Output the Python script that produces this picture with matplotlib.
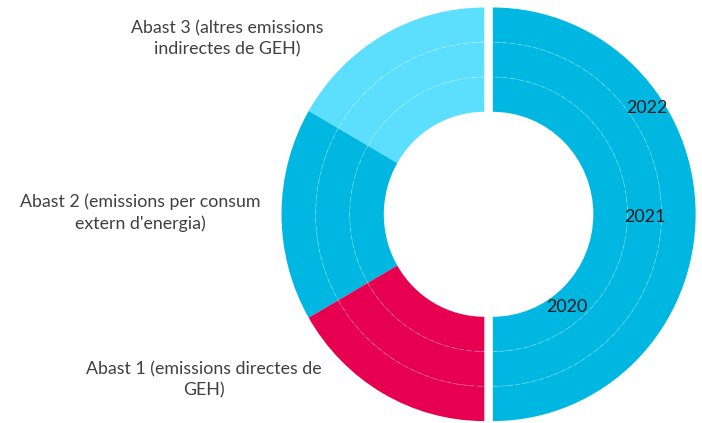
import matplotlib
matplotlib.use("Agg")
import matplotlib.pyplot as plt
from matplotlib.patches import Arc
import numpy as np

# one ring per year, inner ring = first year
years = ["2020", "2021", "2022"]
abast1 = [1, 1, 1]
abast2 = [1, 1, 1]
abast3 = [1, 1, 1]

labels = [
    "Abast 3 (altres emissions\nindirectes de GEH)",
    "Abast 2 (emissions per consum\nextern d'energia)",
    "Abast 1 (emissions directes de\nGEH)",
]
colors = ["#5CDFFE", "#00B7E2", "#E6004F", "#00B7E2"]

plt.rcParams["font.family"] = ["Lato", "DejaVu Sans"]

fig = plt.figure(figsize=(7.02, 4.23), dpi=100)
ax = fig.add_axes([0, 0, 1, 1])

ring_w = 0.168
inner_r = 0.495
gap = 0.042

all_wedges = []
for i, yr in enumerate(years):
    vals = [abast3[i], abast2[i], abast1[i]]
    vals.append(sum(vals))  # right half of the ring
    r = inner_r + ring_w * (i + 1)
    wedges, _ = ax.pie(vals, radius=r, startangle=90, counterclock=True,
                       colors=colors, explode=[0, 0, 0, gap],
                       wedgeprops=dict(width=ring_w, linewidth=0))
    all_wedges.append(wedges)

    # dashed separator on the inner edge of the outer rings
    if i > 0:
        for w in wedges:
            arc = Arc(w.center, 2 * (r - ring_w), 2 * (r - ring_w),
                      theta1=w.theta1, theta2=w.theta2, color="white",
                      alpha=0.22, lw=0.8, ls=(0, (4, 3)))
            ax.add_patch(arc)

# year labels on the right half
label_angles = [-51, -1, 34]
for i, yr in enumerate(years):
    cx, cy = all_wedges[i][3].center
    rm = inner_r + ring_w * (i + 0.5)
    a = np.deg2rad(label_angles[i])
    ax.text(cx + rm * np.cos(a), cy + rm * np.sin(a), yr, ha="center",
            va="center", fontsize=12.8, color="#1a1a1a")

label_pos = [(227, 39), (140, 213), (204, 380)]
for txt, (px, py) in zip(labels, label_pos):
    fig.text(px / 702, 1 - py / 423, txt, ha="center", va="center",
             multialignment="center", fontsize=12.8, color="#404040",
             linespacing=1.4)

# pixel mapping: circle centre at (484, 214), ~203 px per unit horizontally, 207 vertically
ax.set_aspect("auto")
ax.set_xlim(-484.3 / 203, (702 - 484.3) / 203)
ax.set_ylim(-(423 - 214.3) / 207, 214.3 / 207)
ax.axis("off")

fig.savefig("out.png", dpi=100)
